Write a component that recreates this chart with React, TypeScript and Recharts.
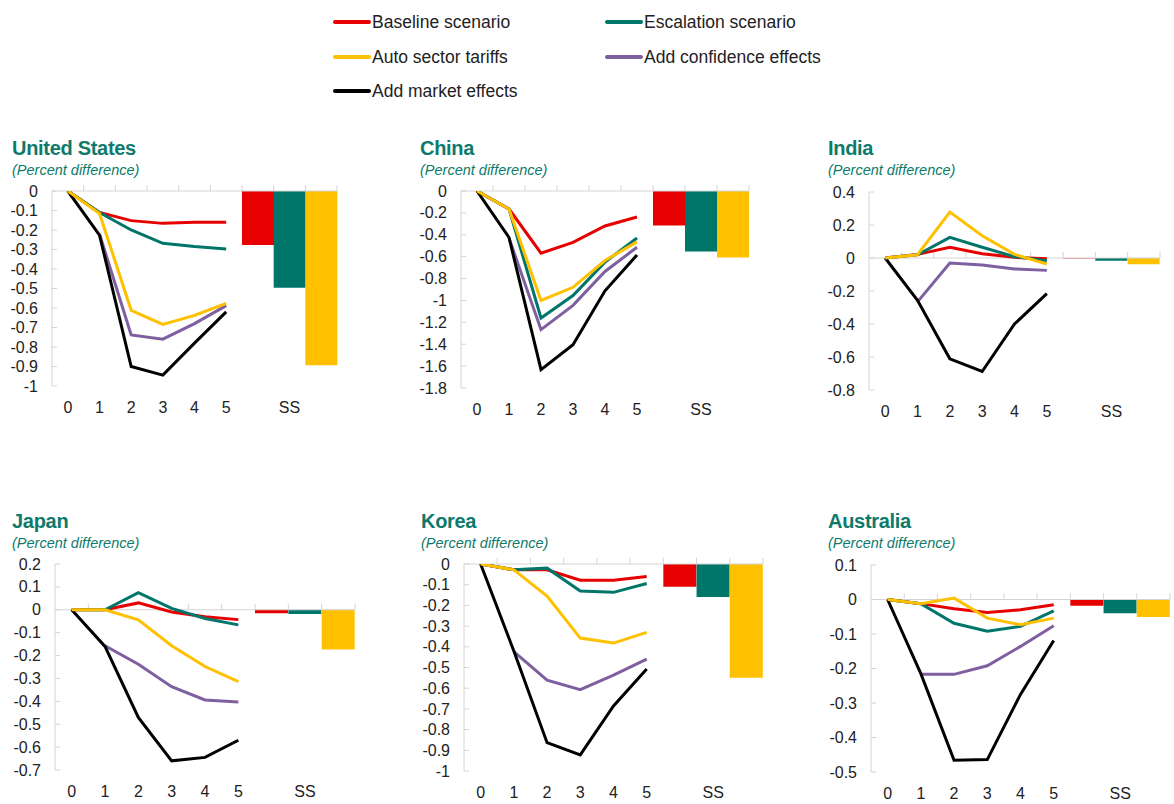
import { ComposedChart, Line, Bar, Cell, XAxis, YAxis, ReferenceLine } from 'recharts'

// horizon (years) plus the steady-state slot
const steps = ['0', '1', '2', '3', '4', '5']
const ssSlots = ['ss-left', 'SS', 'ss-right']

const seriesNames = ['Baseline scenario', 'Escalation scenario', 'Auto sector tariffs', 'Add confidence effects', 'Add market effects']

// United States
const usBaseline = [0, -0.11, -0.152, -0.166, -0.16, -0.16]
const usEscalation = [0, -0.11, -0.2, -0.268, -0.285, -0.297]
const usAuto = [0, -0.115, -0.612, -0.684, -0.638, -0.576]
const usConfidence = [null, -0.22, -0.738, -0.76, -0.68, -0.588]
const usMarket = [0, -0.226, -0.9, -0.944, -0.78, -0.62]
const usSteady = [-0.277, -0.496, -0.894]
const usTicks = [0, -0.1, -0.2, -0.3, -0.4, -0.5, -0.6, -0.7, -0.8, -0.9, -1]

// China
const cnBaseline = [0, -0.164, -0.568, -0.47, -0.32, -0.237]
const cnEscalation = [0, -0.165, -1.16, -0.955, -0.65, -0.43]
const cnAuto = [0, -0.165, -1.0, -0.88, -0.635, -0.465]
const cnConfidence = [null, -0.43, -1.267, -1.045, -0.735, -0.514]
const cnMarket = [0, -0.425, -1.632, -1.404, -0.912, -0.584]
const cnSteady = [-0.316, -0.553, -0.608]
const cnTicks = [0, -0.2, -0.4, -0.6, -0.8, -1, -1.2, -1.4, -1.6, -1.8]

// India
const inBaseline = [0, 0.022, 0.065, 0.026, 0.004, -0.004]
const inEscalation = [0, 0.02, 0.125, 0.065, 0.008, -0.016]
const inAuto = [0, 0.02, 0.278, 0.135, 0.022, -0.036]
const inConfidence = [null, -0.266, -0.03, -0.042, -0.066, -0.075]
const inMarket = [0, -0.256, -0.611, -0.688, -0.4, -0.216]
const inSteady = [-0.003, -0.016, -0.038]
const inTicks = [0.4, 0.2, 0, -0.2, -0.4, -0.6, -0.8]

// Japan
const jpBaseline = [0, 0, 0.03, -0.01, -0.03, -0.043]
const jpEscalation = [0, 0, 0.075, 0.006, -0.038, -0.066]
const jpAuto = [0, 0, -0.044, -0.157, -0.248, -0.314]
const jpConfidence = [null, -0.157, -0.238, -0.336, -0.394, -0.403]
const jpMarket = [0, -0.16, -0.47, -0.66, -0.645, -0.57]
const jpSteady = [-0.015, -0.018, -0.174]
const jpTicks = [0.2, 0.1, 0, -0.1, -0.2, -0.3, -0.4, -0.5, -0.6, -0.7]

// Korea
const krBaseline = [0, -0.028, -0.028, -0.078, -0.078, -0.06]
const krEscalation = [0, -0.028, -0.02, -0.13, -0.137, -0.094]
const krAuto = [0, -0.028, -0.155, -0.358, -0.382, -0.33]
const krConfidence = [null, -0.423, -0.561, -0.607, -0.537, -0.46]
const krMarket = [0, -0.42, -0.863, -0.922, -0.686, -0.507]
const krSteady = [-0.11, -0.16, -0.55]
const krTicks = [0, -0.1, -0.2, -0.3, -0.4, -0.5, -0.6, -0.7, -0.8, -0.9, -1]

// Australia
const auBaseline = [0, -0.012, -0.027, -0.038, -0.03, -0.015]
const auEscalation = [0, -0.012, -0.069, -0.092, -0.078, -0.033]
const auAuto = [0, -0.012, 0.004, -0.054, -0.073, -0.054]
const auConfidence = [null, -0.217, -0.217, -0.192, -0.136, -0.076]
const auMarket = [0, -0.215, -0.466, -0.464, -0.275, -0.119]
const auSteady = [-0.018, -0.04, -0.051]
const auTicks = [0.1, 0, -0.1, -0.2, -0.3, -0.4, -0.5]

const COLORS = ['#E60000', '#00766A', '#FFC000', '#7E5FA0', '#000000']
const TEAL = '#0E7A6B'
const AXIS_GREY = '#D4D4D4'
const FONT = "'Liberation Sans', Arial, sans-serif"
const KEYS = ['baseline', 'escalation', 'auto', 'confidence', 'market']

type Series = (number | null)[][]

function buildRows(series: Series, steady: number[]) {
  const rows: any[] = steps.map((s, i) => {
    const r: any = { x: s }
    KEYS.forEach((k, j) => { r[k] = series[j][i] })
    return r
  })
  ssSlots.forEach((s, i) => rows.push({ x: s, ss: steady[i] }))
  return rows
}

const countries = [
  { name: 'United States', series: [usBaseline, usEscalation, usAuto, usConfidence, usMarket], steady: usSteady, ticks: usTicks },
  { name: 'China', series: [cnBaseline, cnEscalation, cnAuto, cnConfidence, cnMarket], steady: cnSteady, ticks: cnTicks },
  { name: 'India', series: [inBaseline, inEscalation, inAuto, inConfidence, inMarket], steady: inSteady, ticks: inTicks },
  { name: 'Japan', series: [jpBaseline, jpEscalation, jpAuto, jpConfidence, jpMarket], steady: jpSteady, ticks: jpTicks },
  { name: 'Korea', series: [krBaseline, krEscalation, krAuto, krConfidence, krMarket], steady: krSteady, ticks: krTicks },
  { name: 'Australia', series: [auBaseline, auEscalation, auAuto, auConfidence, auMarket], steady: auSteady, ticks: auTicks },
]

// page layout: y axis x, plot top/bottom, plot right, title x/y
const layout = [
  { axisX: 52, top: 191, bottom: 386, right: 337, titleX: 12, titleY: 138 },
  { axisX: 461, top: 191, bottom: 388, right: 749, titleX: 420, titleY: 138 },
  { axisX: 869, top: 192, bottom: 390, right: 1160, titleX: 828, titleY: 138 },
  { axisX: 55, top: 564, bottom: 770, right: 355, titleX: 12, titleY: 511 },
  { axisX: 464, top: 564, bottom: 771, right: 763, titleX: 421, titleY: 511 },
  { axisX: 871, top: 565, bottom: 772, right: 1170, titleX: 828, titleY: 511 },
]

const Y_W = 44
const M_TOP = 10
const X_H = 30

const fmt = (v: number) => String(Number(v.toFixed(1)))

function YTick(props: any) {
  const { x, y, payload } = props
  return (
    <g>
      <line x1={x + 14} x2={x + 19} y1={y} y2={y} stroke={AXIS_GREY} />
      <text x={x} y={y} dy="0.35em" textAnchor="end" fill="#222" fontSize={16} fontFamily={FONT}>
        {fmt(payload.value)}
      </text>
    </g>
  )
}

function ZeroLine(props: any) {
  const { x1, x2, y1 } = props
  const n = steps.length + ssSlots.length
  const w = (x2 - x1) / n
  return (
    <g>
      <line x1={x1} x2={x2} y1={y1} y2={y1} stroke={AXIS_GREY} strokeWidth={1} />
      {Array.from({ length: n }, (_, i) => (
        <line key={i} x1={x1 + w * (i + 1)} x2={x1 + w * (i + 1)} y1={y1} y2={y1 - 6} stroke={AXIS_GREY} />
      ))}
    </g>
  )
}

function Panel({ c, l }: { c: typeof countries[number]; l: typeof layout[number] }) {
  const rows = buildRows(c.series, c.steady)
  const left = l.axisX - Y_W
  const width = l.right - left + 2
  const height = l.bottom - l.top + M_TOP + X_H
  const ssColors = COLORS.slice(0, 3)
  return (
    <>
      <div style={{ position: 'absolute', left: l.titleX, top: l.titleY, color: TEAL, fontWeight: 700, fontSize: 20, lineHeight: '20px', fontFamily: FONT, letterSpacing: -0.3 }}>
        {c.name}
      </div>
      <div style={{ position: 'absolute', left: l.titleX, top: l.titleY + 25, color: TEAL, fontStyle: 'italic', fontSize: 14.5, lineHeight: '15px', fontFamily: FONT }}>
        (Percent difference)
      </div>
      <div style={{ position: 'absolute', left, top: l.top - M_TOP }}>
        <ComposedChart width={width} height={height} data={rows} margin={{ top: M_TOP, right: 2, left: 0, bottom: 0 }} barCategoryGap={0} barGap={0}>
          <XAxis
            dataKey="x"
            interval={0}
            axisLine={false}
            tickLine={false}
            tickSize={0}
            tickMargin={16}
            height={X_H}
            tick={{ fill: '#222', fontSize: 16, fontFamily: FONT }}
            tickFormatter={(v: string) => (v.startsWith('ss-') ? '' : v)}
          />
          <YAxis
            width={Y_W}
            domain={[c.ticks[c.ticks.length - 1], c.ticks[0]]}
            ticks={c.ticks}
            interval={0}
            allowDataOverflow
            axisLine={{ stroke: AXIS_GREY }}
            tickLine={false}
            tickSize={0}
            tickMargin={14}
            tick={<YTick />}
          />
          <ReferenceLine y={0} shape={<ZeroLine />} />
          <Bar dataKey="ss" isAnimationActive={false}>
            {rows.map((_, i) => (
              <Cell key={i} fill={i >= steps.length ? ssColors[i - steps.length] : 'none'} />
            ))}
          </Bar>
          {[0, 1, 3, 4, 2].map((j) => (
            <Line
              key={KEYS[j]}
              dataKey={KEYS[j]}
              name={seriesNames[j]}
              stroke={COLORS[j]}
              strokeWidth={3}
              dot={false}
              activeDot={false}
              isAnimationActive={false}
            />
          ))}
        </ComposedChart>
      </div>
    </>
  )
}

function LegendItem({ color, label, x, y }: { color: string; label: string; x: number; y: number }) {
  return (
    <div style={{ position: 'absolute', left: x, top: y - 11, height: 22, display: 'flex', alignItems: 'center', fontFamily: FONT, fontSize: 17.5, color: '#222', whiteSpace: 'nowrap' }}>
      <span style={{ display: 'inline-block', width: 38, height: 4, background: color, marginRight: 1, borderRadius: 2 }} />
      {label}
    </div>
  )
}

export default function App() {
  const legendPos = [
    { x: 333, y: 22 },
    { x: 605, y: 22 },
    { x: 333, y: 57 },
    { x: 605, y: 57 },
    { x: 333, y: 91 },
  ]
  return (
    <div style={{ position: 'absolute', left: 0, top: 0, width: 1174, height: 804, background: '#fff', fontFamily: FONT }}>
      {seriesNames.map((s, i) => (
        <LegendItem key={s} color={COLORS[i]} label={s} x={legendPos[i].x} y={legendPos[i].y} />
      ))}
      {countries.map((c, i) => (
        <Panel key={c.name} c={c} l={layout[i]} />
      ))}
    </div>
  )
}
